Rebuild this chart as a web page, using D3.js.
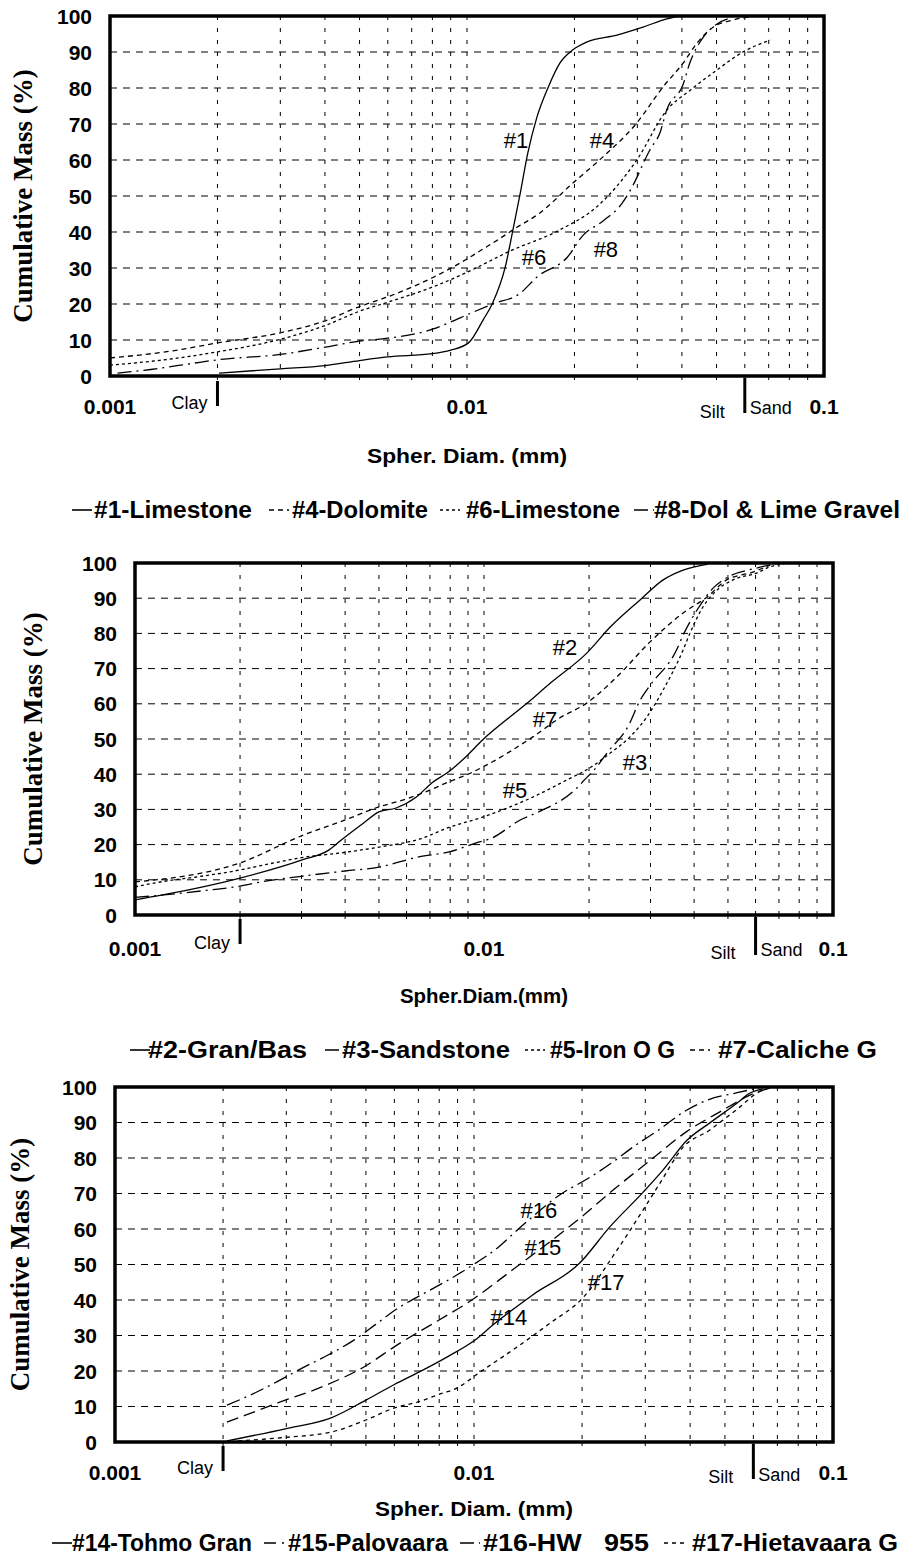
<!DOCTYPE html>
<html>
<head>
<meta charset="utf-8">
<script src="https://cdn.jsdelivr.net/npm/d3@7"></script>
<style>
  body { margin: 0; background: #fff; }
  svg { display: block; }
</style>
</head>
<body>
<svg id="chart" width="906" height="1558"></svg>
<script>
// ---------- shared axis data ----------
const yTickValues = [0, 10, 20, 30, 40, 50, 60, 70, 80, 90, 100];
const xTickValues = [0.001, 0.01, 0.1];
const xTickText = ["0.001", "0.01", "0.1"];
const gridDiameters = [0.002, 0.003, 0.004, 0.005, 0.006, 0.007, 0.008, 0.009, 0.01,
                       0.02, 0.03, 0.04, 0.05, 0.06, 0.07, 0.08, 0.09];
const clayLimit = 0.002;
const siltSandLimit = 0.06;

// ---------- panel 1: carbonate samples ----------
const p1Names = ["#1-Limestone", "#4-Dolomite", "#6-Limestone", "#8-Dol & Lime Gravel"];
const p1Tags = ["#1", "#4", "#6", "#8"];
const p1TagAt = [[0.01372, 63.3], [0.02388, 63.3], [0.01541, 30.8], [0.02449, 33.1]];
const p1Limestone1 = [[0.00202, 0.8], [0.003, 2], [0.004, 2.9], [0.005, 4.3], [0.006, 5.3], [0.008, 6.2],
  [0.009, 7.2], [0.0101, 9.2], [0.0111, 15.6], [0.0118, 20.3], [0.0128, 30.3], [0.01345, 40.6],
  [0.0141, 50.8], [0.0148, 61.9], [0.0157, 71.9], [0.0169, 80.3], [0.0182, 86.9], [0.0198, 90.6],
  [0.0217, 92.8], [0.0263, 94.7], [0.0311, 96.9], [0.0363, 99.2], [0.0395, 100]];
const p1Dolomite4 = [[0.001, 5.0], [0.0015, 7.0], [0.002, 9.2], [0.003, 12], [0.004, 15.3], [0.005, 19.3],
  [0.006, 22], [0.008, 27.3], [0.01, 32.5], [0.0111, 35.3], [0.0125, 38.5], [0.01345, 40.6],
  [0.016, 45.3], [0.0198, 53.6], [0.024, 60.8], [0.0299, 70.3], [0.0354, 80.3], [0.0403, 86.9],
  [0.0441, 92.5], [0.0489, 96.9], [0.0556, 98.9], [0.065, 100]];
const p1Limestone6 = [[0.001, 3.0], [0.0015, 4.8], [0.002, 6.7], [0.003, 10.2], [0.004, 14], [0.005, 18],
  [0.006, 20.5], [0.008, 24.7], [0.01, 28.8], [0.0111, 31], [0.013, 34.4], [0.0182, 40.6],
  [0.0231, 47], [0.0299, 60], [0.0363, 73.9], [0.0422, 79.4], [0.0501, 85], [0.0593, 90],
  [0.0706, 93.3]];
const p1DolLime8 = [[0.00105, 0.8], [0.0013, 1.8], [0.0017, 3.5], [0.002, 4.5], [0.003, 6], [0.004, 8],
  [0.005, 9.7], [0.006, 10.5], [0.008, 13], [0.009, 15], [0.01, 17], [0.0118, 20], [0.0141, 23],
  [0.0157, 27.5], [0.0191, 33], [0.0211, 39], [0.024, 43], [0.0272, 48], [0.029, 52.5],
  [0.0326, 63], [0.0347, 67.5], [0.0363, 74], [0.0403, 81], [0.0421, 87], [0.0458, 94],
  [0.0489, 97], [0.055, 99.5]];

// ---------- panel 2: granite, sandstone, iron ore, caliche ----------
const p2Names = ["#2-Gran/Bas", "#3-Sandstone", "#5-Iron O G", "#7-Caliche G"];
const p2Tags = ["#2", "#3", "#5", "#7"];
const p2TagAt = [[0.01706, 73.9], [0.0271, 41.2], [0.01227, 33.2], [0.01496, 53.4]];
const p2GranBas2 = [[0.001, 4.3], [0.0012, 5.7], [0.002, 10.5], [0.003, 15.6], [0.0036, 18.5],
  [0.0039, 21.3], [0.0045, 26], [0.005, 29.3], [0.0056, 30.4], [0.0064, 33.5], [0.0071, 37.6],
  [0.0079, 40.6], [0.0088, 44.6], [0.0099, 49.7], [0.0133, 60.2], [0.0155, 65.9], [0.0197, 74.4],
  [0.023, 81.8], [0.028, 89.5], [0.0326, 95.2], [0.0372, 98], [0.0438, 99.7]];
const p2Sandstone3 = [[0.001, 5], [0.0013, 6], [0.0016, 7], [0.002, 8.2], [0.0023, 9.4], [0.003, 11],
  [0.004, 12.5], [0.005, 13.6], [0.0065, 16.5], [0.008, 18], [0.0095, 20.5], [0.0105, 21.8],
  [0.0127, 27], [0.0145, 29.5], [0.0182, 35.5], [0.0195, 38.6], [0.021, 42], [0.0225, 46],
  [0.026, 54], [0.028, 61], [0.0298, 65], [0.0355, 75], [0.0374, 80], [0.041, 87],
  [0.0455, 93], [0.05, 96], [0.06, 98.5], [0.07, 100]];
const p2IronOre5 = [[0.001, 8], [0.0012, 9.5], [0.0015, 10.8], [0.002, 12.8], [0.0025, 14.8],
  [0.003, 16.3], [0.004, 17.8], [0.005, 19.3], [0.0065, 21.5], [0.008, 25], [0.0099, 27.8],
  [0.0138, 33.5], [0.0173, 38.4], [0.0201, 41.8], [0.023, 46], [0.0262, 50.6], [0.0293, 56.3],
  [0.0326, 63.9], [0.0372, 75.3], [0.0389, 80], [0.0424, 87.5], [0.0465, 92.3], [0.0517, 95.2],
  [0.0606, 97.2], [0.066, 98.9], [0.075, 100]];
const p2Caliche7 = [[0.001, 9.4], [0.002, 14.8], [0.003, 22.5], [0.004, 27], [0.005, 30.7],
  [0.006, 33], [0.007, 35.5], [0.008, 38], [0.009, 40], [0.0099, 42], [0.0138, 50.6],
  [0.0165, 56], [0.0197, 60.2], [0.024, 67.6], [0.0297, 77.3], [0.0372, 85.8], [0.0435, 90.3],
  [0.0496, 95.2], [0.0589, 97.4], [0.066, 99.4]];

// ---------- panel 3: Finnish samples ----------
const p3Names = ["#14-Tohmo Gran", "#15-Palovaara", "#16-HW   955", "#17-Hietavaara G"];
const p3Tags = ["#14", "#15", "#16", "#17"];
const p3TagAt = [[0.0125, 33], [0.01556, 52.7], [0.01517, 63.1], [0.02333, 42.8]];
const p3Tohmo14 = [[0.00205, 0.3], [0.003, 3.8], [0.004, 6.8], [0.005, 11.8], [0.006, 16.2],
  [0.007, 19.6], [0.0085, 24.2], [0.01, 28.5], [0.0113, 33], [0.0146, 41.5], [0.0197, 50.4],
  [0.0239, 60.6], [0.0296, 70.4], [0.0336, 76.6], [0.0392, 85], [0.0454, 89.9], [0.0541, 95.5],
  [0.0587, 98.3], [0.0638, 99.5]];
const p3Palovaara15 = [[0.00205, 5.6], [0.0023, 7.5], [0.00284, 11], [0.00387, 16], [0.00491, 21],
  [0.0061, 27.3], [0.00779, 33.7], [0.01, 40.4], [0.0125, 47.7], [0.0197, 63], [0.0247, 71.4],
  [0.0311, 79.5], [0.0392, 87.5], [0.0484, 93], [0.0606, 98.3], [0.0668, 99.7]];
const p3HW16 = [[0.00205, 10.4], [0.00238, 13.2], [0.00283, 17], [0.00332, 20.8], [0.00392, 24.5],
  [0.00463, 28.7], [0.0053, 33], [0.00614, 37.7], [0.0073, 42], [0.00847, 45.6], [0.00994, 49.9],
  [0.0116, 54.6], [0.0133, 60], [0.0177, 70.2], [0.0206, 74], [0.0241, 78.5], [0.0281, 83.5],
  [0.0328, 88], [0.0384, 93], [0.0449, 96.4], [0.0541, 98.4], [0.0626, 99.8]];
const p3Hieta17 = [[0.0022, 0.3], [0.0029, 1.2], [0.004, 2.8], [0.005, 6.2], [0.006, 9.6],
  [0.007, 11.3], [0.0082, 13.8], [0.0087, 14.6], [0.0106, 20.3], [0.0132, 26.8], [0.0163, 33.5],
  [0.0201, 40.6], [0.025, 54], [0.0296, 65.4], [0.033, 73], [0.0382, 83], [0.0454, 87.9],
  [0.0494, 90.7], [0.0551, 94.4], [0.0614, 98.3], [0.0655, 99.5]];

// ---------- line styles ----------
const SOLID = null, DASH = "5,4", FINE = "3,3", DASHDOT = "14,5,2,5", LONG = "12,6", SHORT = "4,4";

// ---------- panel layout ----------
const panels = [
  {
    x0: 110, x1: 824, yTop: 16, yBot: 376,
    yTitleX: 23, xTitle: "Spher. Diam. (mm)", xTitleW: 200, xTitleY: 463,
    tickY: 414, clayY: 409, siltY: 418, sandY: 414,
    clayBar: [5, 30], siltBar: [2, 37],
    series: [p1Limestone1, p1Dolomite4, p1Limestone6, p1DolLime8],
    dashes: [SOLID, DASH, FINE, DASHDOT],
    names: p1Names, tags: p1Tags, tagAt: p1TagAt,
    legendY: 518,
    legendSample: [72, 269, 440, 634],
    legendText: [[94, 158], [292, 136], [466, 154], [654, 246]]
  },
  {
    x0: 135, x1: 833, yTop: 563, yBot: 915,
    yTitleX: 33, xTitle: "Spher.Diam.(mm)", xTitleW: 168, xTitleY: 1003,
    tickY: 956, clayY: 949, siltY: 959, sandY: 956,
    clayBar: [4, 29], siltBar: [2, 40],
    series: [p2GranBas2, p2Sandstone3, p2IronOre5, p2Caliche7],
    dashes: [SOLID, DASHDOT, FINE, DASH],
    names: p2Names, tags: p2Tags, tagAt: p2TagAt,
    legendY: 1058,
    legendSample: [130, 325, 525, 690],
    legendText: [[148, 159], [342, 168], [550, 125], [718, 159]]
  },
  {
    x0: 115, x1: 833, yTop: 1087, yBot: 1442,
    yTitleX: 20, xTitle: "Spher. Diam. (mm)", xTitleW: 198, xTitleY: 1516,
    tickY: 1480, clayY: 1474, siltY: 1483, sandY: 1481,
    clayBar: [4, 29], siltBar: [2, 37],
    series: [p3Tohmo14, p3Palovaara15, p3HW16, p3Hieta17],
    dashes: [SOLID, LONG, DASHDOT, SHORT],
    names: p3Names, tags: p3Tags, tagAt: p3TagAt,
    legendY: 1551,
    legendSample: [52, 264, 460, 664],
    legendText: [[72, 180], [288, 160], [483, 166], [692, 206]]
  }
];

const svg = d3.select("#chart");
const SANS = "'Liberation Sans', Arial, Helvetica, sans-serif";
const SERIF = "'Liberation Serif', 'Times New Roman', serif";

panels.forEach(p => {
  const g = svg.append("g");
  const x = d3.scaleLog().domain([0.001, 0.1]).range([p.x0, p.x1]);
  const y = d3.scaleLinear().domain([0, 100]).range([p.yBot, p.yTop]);

  // dashed grid
  g.append("g").selectAll("line")
    .data(yTickValues.filter(v => v > 0 && v < 100))
    .join("line")
    .attr("x1", p.x0).attr("x2", p.x1)
    .attr("y1", d => y(d)).attr("y2", d => y(d))
    .attr("stroke", "#000").attr("stroke-width", 1)
    .attr("stroke-dasharray", "7,6");
  g.append("g").selectAll("line")
    .data(gridDiameters)
    .join("line")
    .attr("x1", d => x(d)).attr("x2", d => x(d))
    .attr("y1", p.yTop).attr("y2", p.yBot)
    .attr("stroke", "#000").attr("stroke-width", 1)
    .attr("stroke-dasharray", "4,8");

  // small ticks under the bottom axis
  g.append("g").selectAll("line")
    .data(gridDiameters)
    .join("line")
    .attr("x1", d => x(d)).attr("x2", d => x(d))
    .attr("y1", p.yBot).attr("y2", p.yBot + 4)
    .attr("stroke", "#000").attr("stroke-width", 1);

  // curves
  const line = d3.line()
    .x(d => x(d[0])).y(d => y(d[1]))
    .curve(d3.curveMonotoneX);
  p.series.forEach((s, i) => {
    g.append("path")
      .datum(s)
      .attr("d", line)
      .attr("fill", "none")
      .attr("stroke", "#000")
      .attr("stroke-width", 1.3)
      .attr("stroke-dasharray", p.dashes[i]);
  });

  // frame
  g.append("rect")
    .attr("x", p.x0).attr("y", p.yTop)
    .attr("width", p.x1 - p.x0).attr("height", p.yBot - p.yTop)
    .attr("fill", "none").attr("stroke", "#000").attr("stroke-width", 3.5);

  // curve tags
  p.tags.forEach((t, i) => {
    g.append("text")
      .attr("x", x(p.tagAt[i][0])).attr("y", y(p.tagAt[i][1]))
      .attr("text-anchor", "middle")
      .attr("font-family", SANS).attr("font-size", 22)
      .text(t);
  });

  // y axis labels
  g.append("g").selectAll("text")
    .data(yTickValues)
    .join("text")
    .attr("x", p.x0 - 18).attr("y", d => y(d))
    .attr("dy", "0.36em")
    .attr("text-anchor", "end")
    .attr("font-family", SANS).attr("font-weight", "bold").attr("font-size", 21)
    .text(d => d);

  // y title
  g.append("text")
    .attr("transform", `translate(${p.yTitleX},${(p.yTop + p.yBot) / 2}) rotate(-90)`)
    .attr("text-anchor", "middle")
    .attr("dominant-baseline", "central")
    .attr("font-family", SERIF).attr("font-weight", "bold").attr("font-size", 27)
    .text("Cumulative Mass (%)");

  // x axis labels
  g.append("g").selectAll("text")
    .data(xTickValues)
    .join("text")
    .attr("x", d => x(d)).attr("y", p.tickY)
    .attr("text-anchor", "middle")
    .attr("font-family", SANS).attr("font-weight", "bold").attr("font-size", 21)
    .text((d, i) => xTickText[i]);

  // size-class boundaries
  g.append("line")
    .attr("x1", x(clayLimit)).attr("x2", x(clayLimit))
    .attr("y1", p.yBot + p.clayBar[0]).attr("y2", p.yBot + p.clayBar[1])
    .attr("stroke", "#000").attr("stroke-width", 3);
  g.append("line")
    .attr("x1", x(siltSandLimit)).attr("x2", x(siltSandLimit))
    .attr("y1", p.yBot + p.siltBar[0]).attr("y2", p.yBot + p.siltBar[1])
    .attr("stroke", "#000").attr("stroke-width", 3);
  g.append("text")
    .attr("x", x(clayLimit) - 10).attr("y", p.clayY)
    .attr("text-anchor", "end")
    .attr("font-family", SANS).attr("font-size", 18)
    .text("Clay");
  g.append("text")
    .attr("x", x(siltSandLimit) - 20).attr("y", p.siltY)
    .attr("text-anchor", "end")
    .attr("font-family", SANS).attr("font-size", 18)
    .text("Silt");
  g.append("text")
    .attr("x", x(siltSandLimit) + 5).attr("y", p.sandY)
    .attr("text-anchor", "start")
    .attr("font-family", SANS).attr("font-size", 18)
    .text("Sand");

  // x title
  g.append("text")
    .attr("x", (p.x0 + p.x1) / 2).attr("y", p.xTitleY)
    .attr("text-anchor", "middle")
    .attr("font-family", SANS).attr("font-weight", "bold").attr("font-size", 21)
    .attr("textLength", p.xTitleW).attr("lengthAdjust", "spacingAndGlyphs")
    .text(p.xTitle);

  // legend
  p.names.forEach((n, i) => {
    const sx = p.legendSample[i];
    g.append("line")
      .attr("x1", sx).attr("x2", sx + 20)
      .attr("y1", p.legendY - 8).attr("y2", p.legendY - 8)
      .attr("stroke", "#000").attr("stroke-width", 1.6)
      .attr("stroke-dasharray", p.dashes[i]);
    g.append("text")
      .attr("x", p.legendText[i][0]).attr("y", p.legendY)
      .attr("font-family", SANS).attr("font-weight", "bold").attr("font-size", 23)
      .attr("textLength", p.legendText[i][1]).attr("lengthAdjust", "spacingAndGlyphs")
      .style("white-space", "pre")
      .text(n);
  });
});
</script>
</body>
</html>
